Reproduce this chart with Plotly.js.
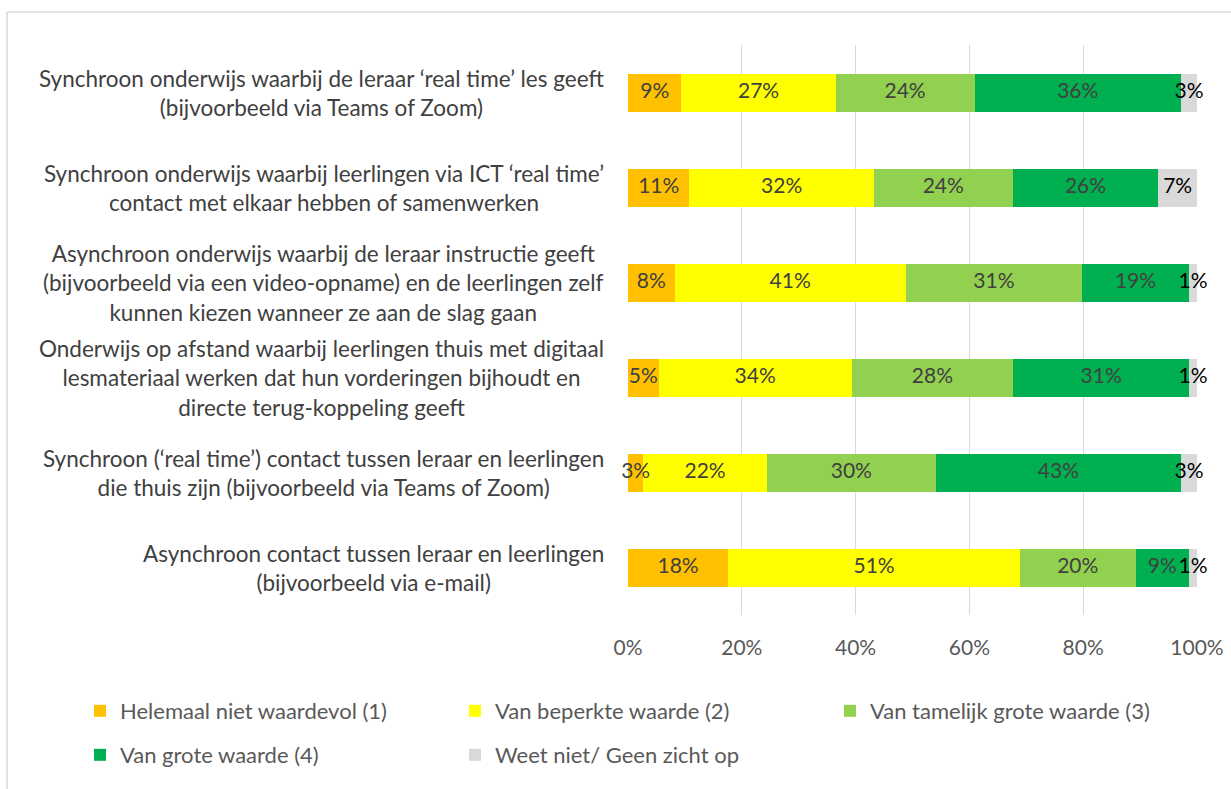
<!DOCTYPE html>
<html>
<head>
<meta charset="utf-8">
<script src="https://cdn.plot.ly/plotly-3.0.1.min.js"></script>
<style>html,body{margin:0;padding:0;background:#fff;}#chart{width:1231px;height:789px;}</style>
</head>
<body>
<div id="chart"></div>
<script>
const categories = [
  "Synchroon onderwijs waarbij de leraar ‘real time’ les geeft<br>(bijvoorbeeld via Teams of Zoom)",
  "Synchroon onderwijs waarbij leerlingen via ICT ‘real time’<br>contact met elkaar hebben of samenwerken",
  "Asynchroon onderwijs waarbij de leraar instructie geeft<br>(bijvoorbeeld via een video-opname) en de leerlingen zelf<br>kunnen kiezen wanneer ze aan de slag gaan",
  "Onderwijs op afstand waarbij leerlingen thuis met digitaal<br>lesmateriaal werken dat hun vorderingen bijhoudt en<br>directe terug-koppeling geeft",
  "Synchroon (‘real time’) contact tussen leraar en leerlingen<br>die thuis zijn (bijvoorbeeld via Teams of Zoom)",
  "Asynchroon contact tussen leraar en leerlingen<br>(bijvoorbeeld via e-mail)"
];
const seriesNames = [
  "Helemaal niet waardevol (1)",
  "Van beperkte waarde (2)",
  "Van tamelijk grote waarde (3)",
  "Van grote waarde (4)",
  "Weet niet/ Geen zicht op"
];
const helemaalNiet = [9.4, 10.8, 8.2, 5.4, 2.7, 17.6];
const beperkt      = [27.1, 32.4, 40.6, 33.9, 21.7, 51.3];
const tamelijk     = [24.4, 24.4, 31.0, 28.4, 29.7, 20.3];
const groot        = [36.3, 25.6, 18.8, 30.9, 43.1, 9.4];
const weetNiet     = [2.8, 6.8, 1.4, 1.4, 2.8, 1.4];
const xTicks = [0, 20, 40, 60, 80, 100];
const xTickText = ["0%", "20%", "40%", "60%", "80%", "100%"];

const seriesValues = [helemaalNiet, beperkt, tamelijk, groot, weetNiet];
const colors = ["#FFC000", "#FFFF00", "#92D050", "#00B050", "#D9D9D9"];
const labelColors = ["#404040", "#404040", "#404040", "#404040", "#000000"];
const FONT = "Lato, 'Noto Sans', sans-serif";

const barTraces = seriesValues.map((vals, i) => ({
  type: "bar",
  orientation: "h",
  name: seriesNames[i],
  y: categories,
  x: vals,
  marker: {color: colors[i], line: {width: 0}},
  hoverinfo: "skip",
  legend: i < 3 ? "legend" : "legend2"
}));

// data labels drawn on top of all bars, centred in each stacked segment
const labelTraces = seriesValues.map((vals, i) => ({
  type: "scatter",
  mode: "text",
  showlegend: false,
  y: categories,
  x: vals.map((v, r) => {
    let start = 0;
    for (let k = 0; k < i; k++) start += seriesValues[k][r];
    return start + v / 2;
  }),
  text: vals.map(v => Math.round(v) + "%"),
  textposition: "middle center",
  textfont: {family: FONT, size: 21, color: labelColors[i]},
  cliponaxis: false,
  hoverinfo: "skip"
}));

const annotations = categories.map(c => ({
  xref: "paper", yref: "y",
  x: 0, y: c,
  xanchor: "right", yanchor: "middle",
  xshift: -22,
  align: "center",
  text: c,
  showarrow: false,
  font: {family: FONT, size: 22.5, color: "#404040"}
}));

const W = 1231, H = 789, L = 628, R = 34, T = 45, B = 174;
const pw = W - L - R, ph = H - T - B;
const px = v => (v - L) / pw;
const py = v => (H - B - v) / ph;

const legendBase = {
  orientation: "h",
  x: px(80), xanchor: "left",
  yanchor: "middle",
  entrywidth: 330, entrywidthmode: "pixels",
  font: {family: FONT, size: 22, color: "#595959"},
  itemclick: false, itemdoubleclick: false,
  traceorder: "normal",
  bgcolor: "rgba(0,0,0,0)"
};

const layout = {
  width: W, height: H,
  margin: {l: L, r: R, t: T, b: B, pad: 0},
  paper_bgcolor: "#ffffff",
  plot_bgcolor: "#ffffff",
  barmode: "stack",
  bargap: 0.6,
  showlegend: true,
  font: {family: FONT, color: "#595959"},
  xaxis: {
    range: [0, 100],
    tickmode: "array",
    tickvals: xTicks,
    ticktext: xTickText,
    showgrid: true,
    gridcolor: "#D9D9D9",
    gridwidth: 1,
    zeroline: false,
    showline: false,
    ticks: "",
    ticklabelstandoff: 18,
    tickfont: {family: FONT, size: 21, color: "#595959"},
    fixedrange: true
  },
  yaxis: {
    type: "category",
    categoryorder: "array",
    categoryarray: categories.slice().reverse(),
    showticklabels: false,
    showgrid: false,
    zeroline: false,
    ticks: "",
    fixedrange: true
  },
  annotations: annotations,
  legend: Object.assign({}, legendBase, {y: py(711)}),
  legend2: Object.assign({}, legendBase, {y: py(755)}),
  shapes: [
    {type: "line", xref: "paper", yref: "paper", x0: px(7), x1: px(7), y0: py(12), y1: py(H + 5), line: {color: "#D9D9D9", width: 1.5}},
    {type: "line", xref: "paper", yref: "paper", x0: px(7), x1: px(W + 5), y0: py(12), y1: py(12), line: {color: "#D9D9D9", width: 1.5}}
  ]
};

Plotly.newPlot("chart", barTraces.concat(labelTraces), layout, {displayModeBar: false, staticPlot: true});
</script>
</body>
</html>
